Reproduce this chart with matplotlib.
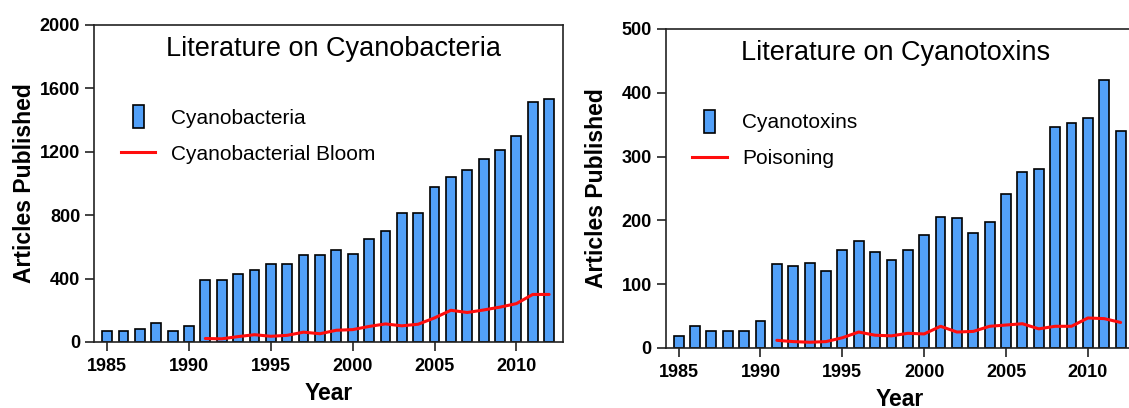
import matplotlib.pyplot as plt
import numpy as np
from matplotlib.patches import Rectangle
from matplotlib.lines import Line2D
from matplotlib.legend_handler import HandlerPatch

plt.rcParams['font.family'] = ['Liberation Sans', 'DejaVu Sans']

years = np.arange(1985, 2013)

# articles per year, left panel
cyanobacteria = [72, 72, 80, 122, 72, 102, 390, 390, 432, 452, 494, 494,
                 546, 546, 578, 556, 650, 702, 816, 816, 978, 1042, 1082,
                 1154, 1214, 1298, 1512, 1534]
bloom_years = np.arange(1991, 2013)
bloom = [22, 20, 34, 46, 36, 42, 62, 52, 74, 78, 98, 114, 102, 112, 152,
         200, 186, 202, 220, 242, 300, 300]

# articles per year, right panel
cyanotoxins = [18, 35, 27, 27, 27, 43, 131, 128, 133, 120, 154, 167, 151,
               138, 154, 177, 206, 203, 180, 198, 242, 276, 281, 347, 352,
               360, 420, 340]
poison_years = np.arange(1991, 2013)
poisoning = [12, 10, 9, 10, 16, 25, 20, 19, 23, 22, 34, 25, 26, 34, 36, 38,
             30, 34, 34, 47, 46, 40]

BAR = '#52a0f8'
RED = '#ff0d0d'


def tall_bar(legend, orig_handle, xdescent, ydescent, width, height, fontsize):
    w, h = 8.0, 16.5
    return Rectangle((-xdescent + width / 2 - w / 2, -ydescent + height / 2 - h / 2),
                     w, h)


def panel(ax, bars, lx, line, ymax, step, title, names, title_x, ypad):
    ax.bar(years, bars, width=0.6, color=BAR, edgecolor='black', linewidth=1.2,
           zorder=2)
    ax.plot(lx, line, color=RED, lw=2.2, solid_joinstyle='round',
            solid_capstyle='round', zorder=3)
    ax.set_xlim(1984.2, 2012.85)
    ax.set_ylim(0, ymax)
    ax.set_xticks(np.arange(1985, 2011, 5))
    ax.set_yticks(np.arange(0, ymax + 1, step))
    for s in ax.spines.values():
        s.set_linewidth(1.2)
        s.set_color('#222222')
    ax.tick_params(direction='out', length=6.5, width=1.2, color='#222222',
                   labelsize=13, pad=3.5)
    ax.tick_params(axis='x', pad=5)
    for lab in ax.get_xticklabels() + ax.get_yticklabels():
        lab.set_fontweight('bold')
    ax.set_xlabel('Year', fontsize=16.5, fontweight='bold', labelpad=5)
    ax.set_ylabel('Articles Published', fontsize=16.5, fontweight='bold',
                  labelpad=ypad)
    ax.text(title_x, 0.925, title, transform=ax.transAxes, ha='center',
            va='center', fontsize=19.5)
    handles = [Rectangle((0, 0), 1, 1, facecolor=BAR, edgecolor='black',
                         linewidth=1.2),
               Line2D([], [], color=RED, lw=2.2)]
    ax.legend(handles, names, loc='upper left', bbox_to_anchor=(0.035, 0.768),
              frameon=False, fontsize=15, handlelength=1.65,
              handletextpad=0.75, labelspacing=0.8, borderpad=0,
              handler_map={Rectangle: HandlerPatch(patch_func=tall_bar)})


fig = plt.figure(figsize=(11.29, 4.08), dpi=100)
ax1 = fig.add_axes([0.0833, 0.1618, 0.4154, 0.777])
ax2 = fig.add_axes([0.5895, 0.1471, 0.4154, 0.782])

panel(ax1, cyanobacteria, bloom_years, bloom, 2000, 400,
      'Literature on Cyanobacteria', ['Cyanobacteria', 'Cyanobacterial Bloom'],
      0.51, 3)
panel(ax2, cyanotoxins, poison_years, poisoning, 500, 100,
      'Literature on Cyanotoxins', ['Cyanotoxins', 'Poisoning'], 0.491, 10)

fig.savefig('out.png', dpi=100)
